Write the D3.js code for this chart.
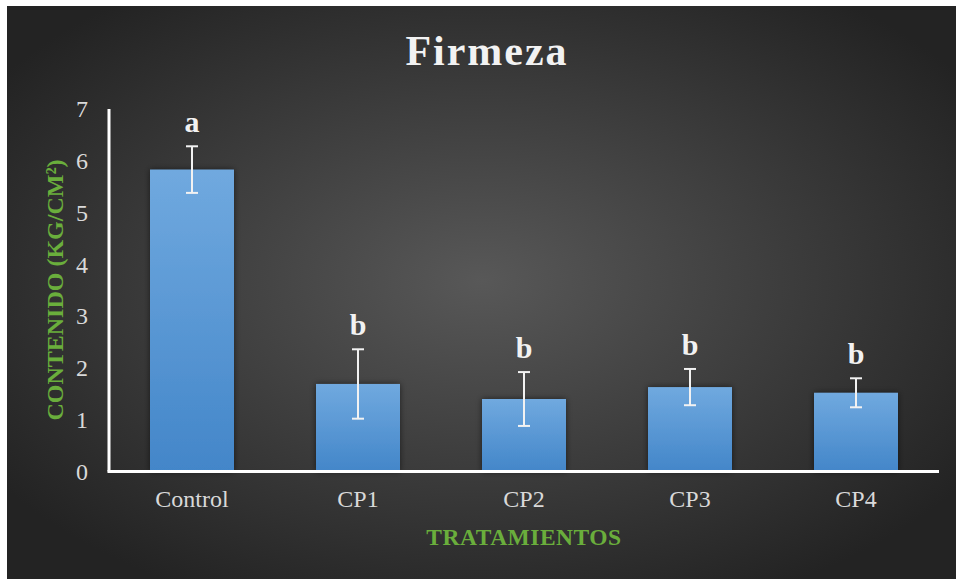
<!DOCTYPE html>
<html>
<head>
<meta charset="utf-8">
<script src="https://cdn.jsdelivr.net/npm/d3@7"></script>
<style>
  html, body { margin: 0; padding: 0; background: #ffffff; }
  svg { display: block; }
</style>
</head>
<body>
<div id="grafico"></div>
<script>
// ===============================
// Données
// ===============================
const tratamientos = ["Control", "CP1", "CP2", "CP3", "CP4"];
const firmeza = [5.83, 1.69, 1.40, 1.63, 1.52];
const desviacion = [0.45, 0.67, 0.52, 0.35, 0.28];
const letras = ["a", "b", "b", "b", "b"];
const ticksY = [0, 1, 2, 3, 4, 5, 6, 7];

// ===============================
// Dimensions
// ===============================
const largeur = 956, hauteur = 579;
const gauche = 109, droite = 939, haut = 109, bas = 471.5;
const police = "'Liberation Serif', 'Times New Roman', serif";

const svg = d3.select("#grafico").append("svg")
    .attr("width", largeur)
    .attr("height", hauteur);

const defs = svg.append("defs");

// fond en dégradé radial
const fond = defs.append("radialGradient")
    .attr("id", "fond")
    .attr("cx", "50%").attr("cy", "48%").attr("r", "62%");
fond.append("stop").attr("offset", "0%").attr("stop-color", "#585858");
fond.append("stop").attr("offset", "100%").attr("stop-color", "#232323");

// dégradé des barres
const degrade = defs.append("linearGradient")
    .attr("id", "barre")
    .attr("x1", 0).attr("y1", 0).attr("x2", 0).attr("y2", 1);
degrade.append("stop").attr("offset", "0%").attr("stop-color", "#70a9df");
degrade.append("stop").attr("offset", "100%").attr("stop-color", "#4386c9");

// ombre des barres
const ombre = defs.append("filter").attr("id", "ombre")
    .attr("x", "-20%").attr("y", "-10%").attr("width", "140%").attr("height", "120%");
ombre.append("feDropShadow")
    .attr("dx", 0).attr("dy", 0)
    .attr("stdDeviation", 3)
    .attr("flood-color", "#000")
    .attr("flood-opacity", 0.55);

svg.append("rect")
    .attr("x", 7).attr("y", 6)
    .attr("width", largeur - 7).attr("height", hauteur - 6)
    .attr("fill", "url(#fond)");

// ===============================
// Échelles
// ===============================
const x = d3.scaleBand()
    .domain(tratamientos)
    .range([gauche, droite])
    .paddingInner(0.494)
    .paddingOuter(0.247);

const y = d3.scaleLinear()
    .domain([0, 7])
    .range([bas, haut]);

// ===============================
// Barres
// ===============================
svg.append("g").selectAll("rect")
    .data(tratamientos)
    .join("rect")
    .attr("x", d => x(d))
    .attr("y", (d, i) => y(firmeza[i]))
    .attr("width", x.bandwidth())
    .attr("height", (d, i) => y(0) - y(firmeza[i]))
    .attr("fill", "url(#barre)")
    .attr("filter", "url(#ombre)");

// barres d'erreur
const erreurs = svg.append("g")
    .attr("stroke", "#f2f2f2")
    .attr("stroke-width", 2);

tratamientos.forEach((t, i) => {
    const cx = x(t) + x.bandwidth() / 2;
    const yHaut = y(firmeza[i] + desviacion[i]);
    const yBas = y(firmeza[i] - desviacion[i]);
    erreurs.append("line").attr("x1", cx).attr("x2", cx).attr("y1", yHaut).attr("y2", yBas);
    erreurs.append("line").attr("x1", cx - 6).attr("x2", cx + 6).attr("y1", yHaut).attr("y2", yHaut);
    erreurs.append("line").attr("x1", cx - 6).attr("x2", cx + 6).attr("y1", yBas).attr("y2", yBas);
});

// lettres de signification
svg.append("g").selectAll("text")
    .data(tratamientos)
    .join("text")
    .attr("x", d => x(d) + x.bandwidth() / 2)
    .attr("y", (d, i) => y(firmeza[i] + desviacion[i]) - 14)
    .attr("text-anchor", "middle")
    .attr("font-family", police)
    .attr("font-weight", "bold")
    .attr("font-size", 30)
    .attr("fill", "#f2f2f2")
    .text((d, i) => letras[i]);

// ===============================
// Axes
// ===============================
svg.append("line")
    .attr("x1", gauche).attr("x2", gauche)
    .attr("y1", haut).attr("y2", bas)
    .attr("stroke", "#ffffff").attr("stroke-width", 3);

svg.append("line")
    .attr("x1", gauche - 1.5).attr("x2", droite)
    .attr("y1", bas).attr("y2", bas)
    .attr("stroke", "#ffffff").attr("stroke-width", 3);

const axeY = d3.axisLeft(y).tickValues(ticksY).tickFormat(d3.format("d")).tickSize(0).tickPadding(21);
svg.append("g")
    .attr("transform", `translate(${gauche},0)`)
    .call(axeY)
    .call(g => g.select(".domain").remove())
    .call(g => g.selectAll("text")
        .attr("font-family", police)
        .attr("font-size", 24)
        .attr("fill", "#d9d9d9"));

const axeX = d3.axisBottom(x).tickSize(0).tickPadding(18);
svg.append("g")
    .attr("transform", `translate(0,${bas})`)
    .call(axeX)
    .call(g => g.select(".domain").remove())
    .call(g => g.selectAll("text")
        .attr("font-family", police)
        .attr("font-size", 24)
        .attr("fill", "#d9d9d9"));

// ===============================
// Titres
// ===============================
svg.append("text")
    .attr("x", 487).attr("y", 65)
    .attr("text-anchor", "middle")
    .attr("font-family", police)
    .attr("font-weight", "bold")
    .attr("font-size", 42)
    .attr("letter-spacing", 2)
    .attr("fill", "#f2f2f2")
    .text("Firmeza");

svg.append("text")
    .attr("x", 524).attr("y", 545)
    .attr("text-anchor", "middle")
    .attr("font-family", police)
    .attr("font-weight", "bold")
    .attr("font-size", 23.5)
    .attr("letter-spacing", 0.5)
    .attr("fill", "#6aae3c")
    .text("TRATAMIENTOS");

svg.append("text")
    .attr("transform", "translate(63,290) rotate(-90)")
    .attr("text-anchor", "middle")
    .attr("font-family", police)
    .attr("font-weight", "bold")
    .attr("font-size", 24)
    .attr("fill", "#6aae3c")
    .text("CONTENIDO (KG/CM²)");
</script>
</body>
</html>
